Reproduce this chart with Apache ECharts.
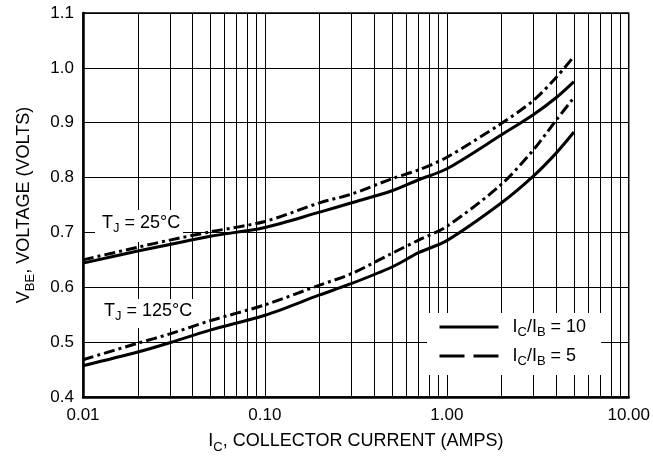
<!DOCTYPE html>
<html>
<head>
<meta charset="utf-8">
<script src="https://cdn.jsdelivr.net/npm/echarts@6/dist/echarts.min.js"></script>
<style>html,body{margin:0;padding:0;background:#fff;}#c{width:653px;height:461px;}</style>
</head>
<body>
<div id="c"></div>
<script>
// ---- data ----
const currentAmps = [0.01, 0.02, 0.03, 0.05, 0.1, 0.2, 0.3, 0.5, 0.7, 1, 2, 3, 4, 5];
const vbe25_ratio10  = [0.644, 0.666, 0.678, 0.693, 0.709, 0.737, 0.754, 0.776, 0.796, 0.816, 0.878, 0.915, 0.946, 0.975];
const vbe25_ratio5   = [0.650, 0.673, 0.686, 0.701, 0.720, 0.754, 0.770, 0.798, 0.814, 0.837, 0.899, 0.941, 0.983, 1.021];
const vbe125_ratio10 = [0.457, 0.482, 0.499, 0.522, 0.549, 0.586, 0.607, 0.637, 0.663, 0.685, 0.754, 0.803, 0.845, 0.883];
const vbe125_ratio5  = [0.468, 0.498, 0.515, 0.539, 0.568, 0.604, 0.625, 0.662, 0.686, 0.711, 0.788, 0.851, 0.905, 0.946];
const minorGridValues = [0.02,0.03,0.04,0.05,0.06,0.07,0.08,0.09, 0.2,0.3,0.4,0.5,0.6,0.7,0.8,0.9, 2,3,4,5,6,7,8,9];
const yTicks = [0.4, 0.5, 0.6, 0.7, 0.8, 0.9, 1.0, 1.1];
const xTickLabels = ['0.01', '0.10', '1.00', '10.00'];
const seriesNames = ['IC/IB = 10', 'IC/IB = 5'];
const tempLabels = ['25°C', '125°C'];

const FONT = "'Liberation Sans', Arial, sans-serif";
function subRich(F, f, pad) {
  return {
    n: {fontSize: F, lineHeight: F, fontFamily: FONT, color: '#000'},
    s: {fontSize: f, lineHeight: f, fontFamily: FONT, color: '#000', padding: [pad, 0, 0, 0]}
  };
}

const solidStyle = {color: '#000', width: 3, type: 'solid'};
const dashDotStyle = {color: '#000', width: 3, type: [11, 4, 3, 4]};
function pairs(arr) { return currentAmps.map((x, i) => [x, arr[i]]); }

const curves = [
  {name: seriesNames[0], data: vbe25_ratio10, style: solidStyle},
  {name: seriesNames[1], data: vbe25_ratio5, style: dashDotStyle},
  {name: seriesNames[0], data: vbe125_ratio10, style: solidStyle},
  {name: seriesNames[1], data: vbe125_ratio5, style: dashDotStyle}
];

const series = curves.map(c => ({
  type: 'line', name: c.name, data: pairs(c.data), smooth: 0.3,
  showSymbol: false, symbol: 'none', lineStyle: c.style, itemStyle: {color: '#000'},
  z: 3, animation: false, silent: true
}));
series.unshift({
  type: 'line', name: 'minor', data: [], z: 0, silent: true, animation: false,
  markLine: {
    z: 1,
    silent: true, symbol: ['none', 'none'], label: {show: false}, animation: false,
    lineStyle: {color: '#000', width: 1, type: 'solid'},
    emphasis: {disabled: true},
    data: minorGridValues.map(v => ({xAxis: v}))
  }
});

const labelRich = subRich(18, 13, 11);
const hiddenSymbol = {opacity: 0, color: 'transparent', borderWidth: 0};

const chart = echarts.init(document.getElementById('c'), null, {renderer: 'canvas'});
chart.setOption({
  animation: false,
  backgroundColor: '#fff',
  grid: {left: 83, right: 22, top: 13, bottom: 64, show: true, borderColor: '#000', borderWidth: 1.5, backgroundColor: 'transparent'},
  xAxis: {
    type: 'log', logBase: 10, min: 0.01, max: 10,
    axisLine: {show: true, onZero: false, lineStyle: {color: '#000', width: 2.5}},
    axisTick: {show: false},
    minorTick: {show: false},
    splitLine: {show: true, lineStyle: {color: '#000', width: 1}},
    axisLabel: {
      color: '#000', fontSize: 17, fontFamily: FONT, margin: 10,
      formatter: v => { const k = Math.round(Math.log10(v)) + 2; return xTickLabels[k]; }
    },
    name: '{n|I}{s|C}{n|, COLLECTOR CURRENT (AMPS)}',
    nameLocation: 'middle', nameGap: 30,
    nameTextStyle: {rich: subRich(18, 13, 12)}
  },
  yAxis: {
    type: 'value', min: yTicks[0], max: yTicks[yTicks.length - 1], interval: 0.1,
    axisLine: {show: true, lineStyle: {color: '#000', width: 2.5}},
    axisTick: {show: false},
    splitLine: {show: true, lineStyle: {color: '#000', width: 1}},
    axisLabel: {color: '#000', fontSize: 17, fontFamily: FONT, margin: 9, formatter: v => v.toFixed(1)},
    name: '{n|V}{s|BE}{n|, VOLTAGE (VOLTS)}',
    nameLocation: 'middle', nameGap: 50, nameRotate: 90,
    nameTextStyle: {rich: subRich(18, 13, 12)}
  },
  legend: {
    orient: 'vertical', left: 427, top: 313,
    backgroundColor: '#fff',
    padding: [2, 15, 7, 11],
    itemWidth: 59, itemHeight: 14, itemGap: 5,
    selectedMode: false,
    itemStyle: hiddenSymbol,
    data: [
      {name: seriesNames[0], lineStyle: {type: 'solid', width: 3, color: '#000'}, itemStyle: hiddenSymbol},
      {name: seriesNames[1], lineStyle: {type: [25, 9], width: 3, color: '#000'}, itemStyle: hiddenSymbol}
    ],
    textStyle: {padding: [0, 0, 0, 9], rich: subRich(18, 13, 11)},
    formatter: name => {
      const ratio = name.split('= ')[1];
      return '{n|I}{s|C}{n|/I}{s|B}{n| = ' + ratio + '}';
    }
  },
  graphic: {
    elements: [
      {type: 'rect', left: 95, top: 210, z: 2, shape: {width: 88, height: 32}, style: {fill: '#fff'}},
      {type: 'rect', left: 100, top: 299, z: 2, shape: {width: 97, height: 29}, style: {fill: '#fff'}},
      {type: 'text', left: 102, top: 211, z: 4,
       style: {text: '{n|T}{s|J}{n| = ' + tempLabels[0] + '}', rich: labelRich}},
      {type: 'text', left: 104, top: 299, z: 4,
       style: {text: '{n|T}{s|J}{n| = ' + tempLabels[1] + '}', rich: labelRich}}
    ]
  },
  series: series
});
</script>
</body>
</html>
